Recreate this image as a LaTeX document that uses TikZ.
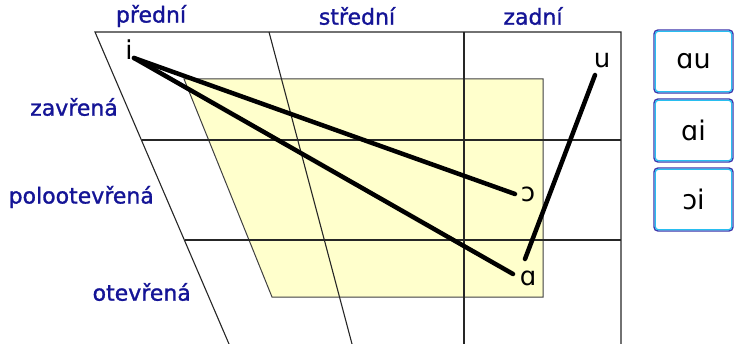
\documentclass[tikz,border=0pt]{standalone}
\usepackage{fontspec}
\setmainfont{DejaVu Sans}
\newfontfamily\labfont[FakeBold=1.2]{DejaVu Sans}
\definecolor{lblue}{RGB}{20,20,150}
\definecolor{trap}{RGB}{255,255,204}
\definecolor{boxcyan}{RGB}{40,190,240}
\definecolor{boxblue}{RGB}{60,50,170}
\begin{document}
\begin{tikzpicture}[x=1pt,y=-1pt,
  grid/.style={line width=1.1pt,black!85},
  lab/.style={text=lblue,font=\labfont\fontsize{22}{22}\selectfont,inner sep=0pt},
  vow/.style={font=\fontsize{26}{26}\selectfont,inner sep=0pt},
  conn/.style={line width=4.5pt,line cap=round},
  dbox/.style={draw=boxblue,line width=1.4pt,rounded corners=4pt,minimum width=79pt,minimum height=63pt,inner sep=0pt,
     font=\fontsize{27}{27}\selectfont}]
\useasboundingbox (0,0) rectangle (735,344);
% yellow area
\filldraw[fill=trap,draw=black!75,line width=1pt] (184,79) -- (543,79) -- (543,297) -- (272,297) -- cycle;
% grid
\draw[grid] (229,344) -- (95,32) -- (621,32) -- (621,344);
\draw[grid] (269,32) -- (352,344);
\draw[grid] (464,32) -- (464,344);
\draw[grid] (142,140) -- (621,140);
\draw[grid] (185,240) -- (621,240);
% labels
\node[lab] (pr) at (151,16) {přední};
\node[lab] (st) at (357,16) {střední};
\node[lab] (za) at (533,16) {zadní};
\node[lab,anchor=east] (zv) at (118,107) {zavřená};
\node[lab,anchor=east] (po) at (154,197) {polootevřená};
\node[lab,anchor=east] (ot) at (191,292) {otevřená};
% vowels
\node[vow] (vi) at (129,50) {i};
\node[vow] (vu) at (602,60) {u};
\node[vow] (vo) at (528,194) {ɔ};
\node[vow] (va) at (528,278) {ɑ};
\coordinate (ci) at (134,58);
\coordinate (co) at (515,194);
\coordinate (ca) at (513,274);
\coordinate (cu) at (595,75);
\coordinate (cua) at (525,259);
\draw[conn] (ci) -- (co);
\draw[conn] (ci) -- (ca);
\draw[conn] (cu) -- (cua);
% boxes
\foreach \n/\y/\t in {b1/61.5/ɑu, b2/130.5/ɑi, b3/199.5/ɔi}{
  \node[dbox] (\n) at (693.5,\y) {\t};
  \draw[boxcyan,line width=1.3pt,rounded corners=3pt] ([shift={(2,-2)}]\n.south west) rectangle ([shift={(-2,2)}]\n.north east);
}
\end{tikzpicture}
\end{document}
